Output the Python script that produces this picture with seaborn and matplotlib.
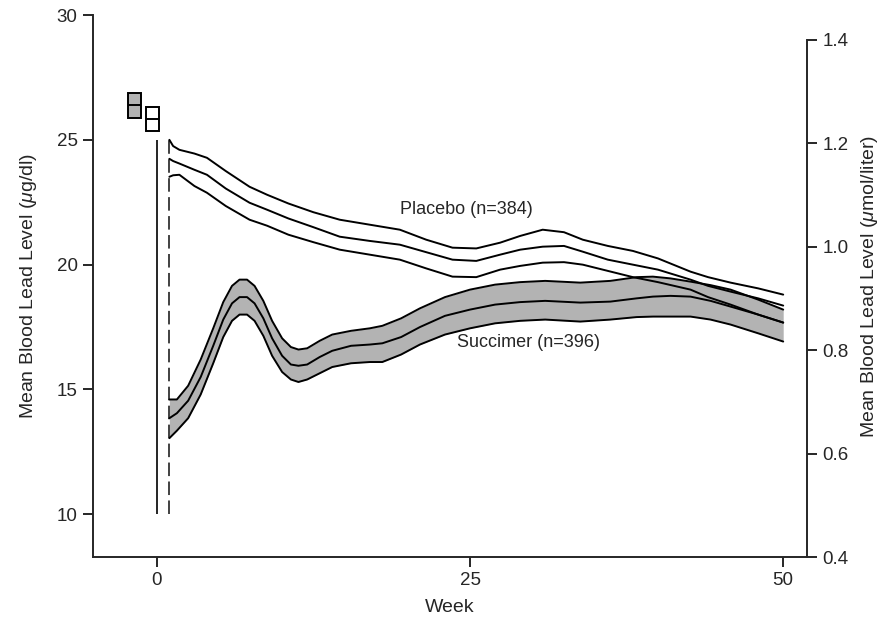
import numpy as np
import pandas as pd
import matplotlib
matplotlib.use("Agg")
import matplotlib.pyplot as plt
import seaborn as sns

# blood lead (ug/dl): upper / mean / lower lines of each band
weeks_placebo = [1, 1.3, 1.8, 3, 4, 5.5, 7.4, 8.8, 10.5, 12.5, 14.6, 17, 19.4, 21.5, 23.6,
                 25.5, 27.4, 29, 30.8, 32.5, 34, 36, 38, 40, 42.6, 44, 45.8, 48, 50]
placebo_upper = [25.0, 24.75, 24.6, 24.45, 24.28, 23.75, 23.12, 22.8, 22.45, 22.1, 21.8, 21.6,
                 21.4, 21.0, 20.68, 20.65, 20.88, 21.15, 21.4, 21.3, 21.0, 20.75, 20.55, 20.25,
                 19.72, 19.5, 19.28, 19.05, 18.8]
placebo_mean = [24.24, 24.15, 24.05, 23.8, 23.6, 23.05, 22.48, 22.2, 21.85, 21.5, 21.12, 20.95,
                20.8, 20.5, 20.2, 20.15, 20.4, 20.6, 20.72, 20.75, 20.52, 20.2, 20.0, 19.8,
                19.4, 19.15, 18.92, 18.65, 18.36]
placebo_lower = [23.52, 23.58, 23.6, 23.15, 22.88, 22.35, 21.8, 21.56, 21.2, 20.9, 20.6, 20.4,
                 20.2, 19.85, 19.52, 19.5, 19.8, 19.95, 20.08, 20.1, 20.0, 19.75, 19.5, 19.3,
                 19.0, 18.7, 18.4, 18.0, 17.68]

weeks_succimer = [1, 1.6, 2.5, 3.5, 4.5, 5.3, 6.0, 6.6, 7.2, 7.8, 8.5, 9.2, 10.0, 10.7, 11.3,
                  12.0, 13.0, 14.0, 15.5, 17.0, 18.0, 19.5, 21, 23, 25, 27, 29, 31, 33.8,
                  36.2, 38.3, 39.6, 41, 42.6, 44.2, 45.8, 48, 50]
succimer_upper = [14.6, 14.6, 15.15, 16.2, 17.45, 18.5, 19.15, 19.4, 19.4, 19.15, 18.55, 17.75,
                  17.05, 16.7, 16.6, 16.65, 16.95, 17.2, 17.35, 17.45, 17.55, 17.85, 18.25,
                  18.7, 19.0, 19.2, 19.3, 19.35, 19.28, 19.35, 19.5, 19.52, 19.45, 19.32,
                  19.18, 19.0, 18.6, 18.2]
succimer_mean = [13.85, 14.05, 14.55, 15.5, 16.75, 17.8, 18.45, 18.7, 18.7, 18.45, 17.85, 17.05,
                 16.35, 16.0, 15.95, 16.0, 16.3, 16.55, 16.75, 16.8, 16.85, 17.1, 17.5,
                 17.95, 18.2, 18.4, 18.5, 18.55, 18.48, 18.52, 18.65, 18.72, 18.75, 18.72,
                 18.55, 18.32, 18.0, 17.68]
succimer_lower = [13.05, 13.35, 13.85, 14.8, 16.05, 17.1, 17.75, 18.0, 18.0, 17.75, 17.15, 16.35,
                  15.7, 15.4, 15.3, 15.4, 15.65, 15.9, 16.05, 16.1, 16.1, 16.4, 16.8, 17.2,
                  17.45, 17.65, 17.75, 17.8, 17.72, 17.8, 17.9, 17.92, 17.92, 17.92, 17.8,
                  17.6, 17.25, 16.92]

# baseline boxes (succimer filled, placebo open)
baseline_weeks = [-1.8, -0.36]
baseline_mean = [26.4, 25.84]
baseline_upper = [26.87, 26.33]
baseline_lower = [25.89, 25.36]

# week 0 (solid) and week 1 (dashed) markers
marker_weeks = [0, 1]
marker_low, marker_high = 10, 25

UG_TO_UMOL = 0.04826

if __name__ == "__main__":
    sns.set_style("ticks")
    plt.rcParams["font.family"] = ["Liberation Sans", "DejaVu Sans"]
    plt.rcParams["mathtext.fontset"] = "custom"
    plt.rcParams["mathtext.it"] = "Liberation Sans:italic"
    plt.rcParams["mathtext.rm"] = "Liberation Sans"
    fontsize = 13.5
    gray = "#b3b3b3"
    lw = 1.4

    fig = plt.figure(figsize=(8.93, 6.25), dpi=100)
    ax = fig.add_axes([0.1041, 0.1088, 0.7996, 0.8672])

    ax.fill_between(weeks_succimer, succimer_lower, succimer_upper, color=gray, lw=0, zorder=1)
    for ys in (succimer_upper, succimer_mean, succimer_lower):
        sns.lineplot(x=weeks_succimer, y=ys, ax=ax, color="black", linewidth=lw,
                     estimator=None, sort=False, zorder=3, solid_joinstyle="round")
    for ys in (placebo_upper, placebo_mean, placebo_lower):
        sns.lineplot(x=weeks_placebo, y=ys, ax=ax, color="black", linewidth=lw,
                     estimator=None, sort=False, zorder=3, solid_joinstyle="round")

    ax.vlines(marker_weeks[0], marker_low, marker_high, color="black", lw=1.2)
    ax.vlines(marker_weeks[1], marker_low, marker_high, color="#333333", lw=1.3,
              linestyles=[(0, (7.5, 3))])

    box_w = 1.05
    ax.bar(baseline_weeks, np.subtract(baseline_upper, baseline_lower), bottom=baseline_lower,
           width=box_w, color=[gray, "white"], edgecolor="black", linewidth=lw, zorder=4)
    ax.hlines(baseline_mean, np.subtract(baseline_weeks, box_w / 2),
              np.add(baseline_weeks, box_w / 2), color="black", lw=lw, zorder=5)

    ax.text(19.4, 22.2, "Placebo (n=384)", fontsize=fontsize - 0.5, va="center", ha="left")
    ax.text(24.0, 16.9, "Succimer (n=396)", fontsize=fontsize - 0.5, va="center", ha="left")

    ax.set_xlim(-5.1, 51.9)
    ax.set_ylim(8.29, 30)
    ax.set_xticks([0, 25, 50])
    ax.set_yticks([10, 15, 20, 25, 30])
    ax.tick_params(direction="out", length=7, width=lw, labelsize=fontsize, pad=4)
    for s in ["top", "right"]:
        ax.spines[s].set_visible(False)
    for s in ["left", "bottom"]:
        ax.spines[s].set_linewidth(lw)
    ax.set_xlabel("Week", fontsize=fontsize + 0.5, labelpad=7)
    ax.set_ylabel(r"Mean Blood Lead Level ($\mu$g/dl)", fontsize=fontsize + 0.5)
    ax.yaxis.set_label_coords(-0.0756, 0.5)

    ax2 = ax.twinx()
    ax2.set_ylim(8.29 * UG_TO_UMOL, 30 * UG_TO_UMOL)
    ax2.set_yticks([0.4, 0.6, 0.8, 1.0, 1.2, 1.4])
    ax2.set_yticklabels(["%.1f" % t for t in [0.4, 0.6, 0.8, 1.0, 1.2, 1.4]])
    ax2.tick_params(direction="out", length=7, width=lw, labelsize=fontsize, pad=4)
    for s in ["top", "left", "bottom"]:
        ax2.spines[s].set_visible(False)
    ax2.spines["right"].set_linewidth(lw)
    ax2.spines["right"].set_bounds(0.4, 1.4)
    ax2.set_ylabel(r"Mean Blood Lead Level ($\mu$mol/liter)", fontsize=fontsize + 0.5,
                   rotation=90)
    ax2.yaxis.set_label_coords(1.0728, 0.5)

    fig.savefig("out.png", dpi=100)
